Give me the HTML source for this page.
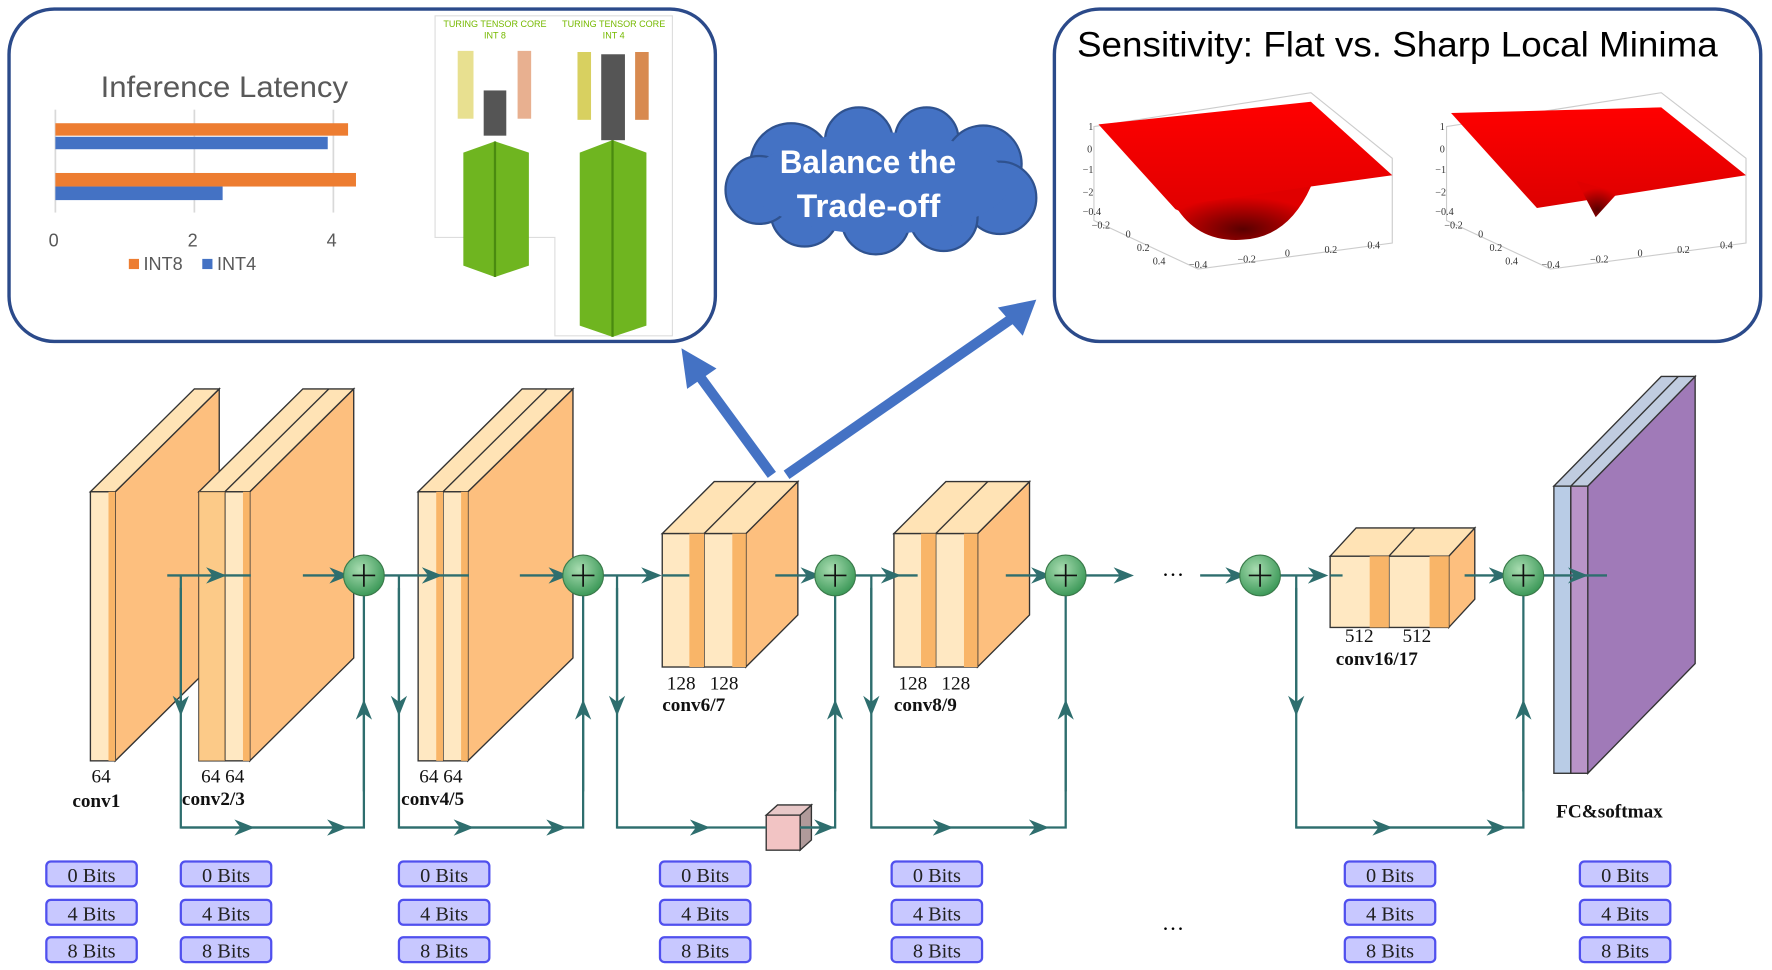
<!DOCTYPE html>
<html><head><meta charset="utf-8"><style>
html,body{margin:0;padding:0;background:#fff;}
svg{display:block}
.s{font-family:"Liberation Serif",serif;}
.a{font-family:"Liberation Sans",sans-serif;}
</style></head><body>
<svg width="1772" height="970" viewBox="0 0 1568 858" preserveAspectRatio="none" xmlns="http://www.w3.org/2000/svg">
<defs>
<radialGradient id="g" cx="40%" cy="35%" r="65%"><stop offset="0" stop-color="#a8dcb0"/><stop offset="1" stop-color="#3e9a5a"/></radialGradient>
<linearGradient id="rd" x1="0" y1="0" x2="0" y2="1"><stop offset="0" stop-color="#f00"/><stop offset="1" stop-color="#d00"/></linearGradient>
<radialGradient id="dip" cx="50%" cy="80%" r="60%"><stop offset="0" stop-color="#5a0000"/><stop offset="1" stop-color="#e00000"/></radialGradient>
<marker id="ar" viewBox="0 0 10 10" refX="7" refY="5" markerWidth="9" markerHeight="9" orient="auto"><path d="M0,1 L10,5 L0,9 L3,5z" fill="#2e6e6e"/></marker>
</defs>

<!-- top-left box -->
<rect x="8" y="8" width="625" height="294" rx="40" fill="#fff" stroke="#2b4a8a" stroke-width="3"/>
<text x="89" y="86" textLength="219" lengthAdjust="spacingAndGlyphs" class="a" font-size="26" fill="#595959">Inference Latency</text>
<g stroke="#d9d9d9" stroke-width="1.5"><line x1="49" y1="97" x2="49" y2="188"/><line x1="172" y1="97" x2="172" y2="188"/><line x1="295" y1="97" x2="295" y2="188"/></g>
<rect x="49" y="109" width="259" height="11" fill="#ed7d31"/>
<rect x="49" y="121" width="241" height="11" fill="#4472c4"/>
<rect x="49" y="153" width="266" height="12" fill="#ed7d31"/>
<rect x="49" y="165" width="148" height="12" fill="#4472c4"/>
<g class="a" font-size="16" fill="#595959"><text x="43" y="218">0</text><text x="166" y="218">2</text><text x="289" y="218">4</text>
<rect x="114" y="229" width="9" height="9" fill="#ed7d31"/><text x="127" y="239">INT8</text>
<rect x="179" y="229" width="9" height="9" fill="#4472c4"/><text x="192" y="239">INT4</text></g>
<!-- tensor core image -->
<path d="M385,14 H595 V297 H491 V210 H385 Z" fill="#fff" stroke="#ddd"/>
<text x="438" y="24" text-anchor="middle" class="a" font-size="8" fill="#76b900">TURING TENSOR CORE</text>
<text x="438" y="34" text-anchor="middle" class="a" font-size="8" fill="#76b900">INT 8</text>
<text x="543" y="24" text-anchor="middle" class="a" font-size="8" fill="#76b900">TURING TENSOR CORE</text>
<text x="543" y="34" text-anchor="middle" class="a" font-size="8" fill="#76b900">INT 4</text>
<rect x="405" y="45" width="14" height="60" fill="#e8e090"/>
<rect x="458" y="45" width="12" height="60" fill="#e8b090"/>
<rect x="428" y="80" width="20" height="40" fill="#555"/>
<rect x="511" y="46" width="12" height="60" fill="#d8d060"/>
<rect x="562" y="46" width="12" height="60" fill="#d88a50"/>
<rect x="532" y="48" width="21" height="76" fill="#555"/>
<path d="M410,135 L438,125 L468,135 V235 L438,245 L410,235 Z" fill="#6fb520"/>
<path d="M513,135 L542,124 L572,135 V288 L542,298 L513,288 Z" fill="#6fb520"/>
<path d="M438,125 V245 M542,124 V298" stroke="#4a8a10" stroke-width="2"/>

<!-- cloud -->
<g fill="#4472c4" stroke="#2f528f" stroke-width="2">
<circle cx="700" cy="145" r="36"/><circle cx="760" cy="125" r="30"/><circle cx="820" cy="123" r="28"/><circle cx="870" cy="145" r="34"/><circle cx="885" cy="175" r="32"/><circle cx="835" cy="192" r="30"/><circle cx="775" cy="195" r="30"/><circle cx="712" cy="188" r="30"/><circle cx="672" cy="168" r="30"/>
</g>
<g fill="#4472c4"><ellipse cx="778" cy="162" rx="115" ry="45"/></g>
<text x="690" y="153" textLength="156" lengthAdjust="spacingAndGlyphs" class="a" font-size="29" font-weight="bold" fill="#fff">Balance the</text>
<text x="705" y="192" textLength="127" lengthAdjust="spacingAndGlyphs" class="a" font-size="29" font-weight="bold" fill="#fff">Trade-off</text>

<!-- top-right box -->
<rect x="933" y="8" width="625" height="294" rx="40" fill="#fff" stroke="#2b4a8a" stroke-width="3"/>
<text x="953" y="50" textLength="567" lengthAdjust="spacingAndGlyphs" class="a" font-size="31" fill="#000">Sensitivity: Flat vs. Sharp Local Minima</text>
<g stroke="#ccc" stroke-width="1" fill="none">
<path d="M968,112 L1160,82 L1232,140 L1232,215 L1060,238 L968,195 Z"/>
<path d="M1280,112 L1470,82 L1545,140 L1545,215 L1372,238 L1280,195 Z"/>
</g>
<path d="M972,110 L1160,90 L1232,155 L1160,165 Q1100,215 1040,185 Z" fill="url(#rd)"/>
<path d="M1040,182 Q1060,215 1100,212 Q1140,210 1160,165 Z" fill="url(#dip)"/>
<path d="M1284,100 L1470,95 L1545,155 L1360,184 Z" fill="url(#rd)"/>
<path d="M1395,160 L1412,192 L1432,170 Z" fill="url(#dip)"/>
<g class="s" font-size="9" fill="#333">
<text x="963" y="115">1</text><text x="962" y="135">0</text><text x="958" y="153">−1</text><text x="958" y="173">−2</text>
<text x="958" y="190">−0.4</text><text x="966" y="202">−0.2</text><text x="996" y="210">0</text><text x="1006" y="222">0.2</text><text x="1020" y="234">0.4</text>
<text x="1052" y="237">−0.4</text><text x="1095" y="232">−0.2</text><text x="1137" y="227">0</text><text x="1172" y="224">0.2</text><text x="1210" y="220">0.4</text>
<text x="1274" y="115">1</text><text x="1274" y="135">0</text><text x="1270" y="153">−1</text><text x="1270" y="173">−2</text>
<text x="1270" y="190">−0.4</text><text x="1278" y="202">−0.2</text><text x="1308" y="210">0</text><text x="1318" y="222">0.2</text><text x="1332" y="234">0.4</text>
<text x="1364" y="237">−0.4</text><text x="1407" y="232">−0.2</text><text x="1449" y="227">0</text><text x="1484" y="224">0.2</text><text x="1522" y="220">0.4</text>
</g>

<!-- blue arrows -->
<g stroke="#4472c4" stroke-width="9" fill="#4472c4">
<line x1="683" y1="420" x2="617" y2="330"/>
<line x1="696" y1="420" x2="895" y2="282"/>
</g>
<path d="M603,308 L634,326 L608,344 Z" fill="#4472c4"/>
<path d="M917,265 L905,297 L883,272 Z" fill="#4472c4"/>

<!-- slabs -->
<g stroke="#333" stroke-width="1.2">
<polygon points="102,435 194,344 194,582 102,673" fill="#fdbf7e"/>
<polygon points="80,435 172,344 194,344 102,435" fill="#ffe3b5"/>
<rect x="80" y="435" width="22" height="238" fill="#ffe8c2"/>
<rect x="96" y="435" width="6" height="238" fill="#f9b568" stroke="none"/>
<polygon points="221,435 313,344 313,582 221,673" fill="#fdbf7e"/>
<polygon points="176,435 268,344 313,344 221,435" fill="#ffe3b5"/>
<line x1="199" y1="435" x2="291" y2="344"/>
<rect x="176" y="435" width="23" height="238" fill="#ffe8c2"/>
<rect x="199" y="435" width="22" height="238" fill="#ffe8c2"/>
<rect x="176" y="435" width="23" height="238" fill="#fbbd6f" fill-opacity="0.7" stroke="none"/>
<rect x="215" y="435" width="6" height="238" fill="#f9b568" stroke="none"/>
<polygon points="414,435 507,344 507,582 414,673" fill="#fdbf7e"/>
<polygon points="370,435 462,344 507,344 414,435" fill="#ffe3b5"/>
<line x1="392" y1="435" x2="484" y2="344"/>
<rect x="370" y="435" width="22" height="238" fill="#ffe8c2"/>
<rect x="392" y="435" width="22" height="238" fill="#ffe8c2"/>
<rect x="386" y="435" width="6" height="238" fill="#f9b568" stroke="none"/>
<rect x="408" y="435" width="6" height="238" fill="#f9b568" stroke="none"/>
<polygon points="660,472 706,426 706,544 660,590" fill="#fdbf7e"/>
<polygon points="586,472 632,426 706,426 660,472" fill="#ffe3b5"/>
<line x1="623" y1="472" x2="669" y2="426"/>
<rect x="586" y="472" width="37" height="118" fill="#ffe8c2"/>
<rect x="623" y="472" width="37" height="118" fill="#ffe8c2"/>
<rect x="610" y="472" width="13" height="118" fill="#f9b568" stroke="none"/>
<rect x="648" y="472" width="12" height="118" fill="#f9b568" stroke="none"/>
<polygon points="865,472 911,426 911,544 865,590" fill="#fdbf7e"/>
<polygon points="791,472 837,426 911,426 865,472" fill="#ffe3b5"/>
<line x1="828" y1="472" x2="874" y2="426"/>
<rect x="791" y="472" width="37" height="118" fill="#ffe8c2"/>
<rect x="828" y="472" width="37" height="118" fill="#ffe8c2"/>
<rect x="815" y="472" width="13" height="118" fill="#f9b568" stroke="none"/>
<rect x="853" y="472" width="12" height="118" fill="#f9b568" stroke="none"/>
<polygon points="1282,492 1305,467 1305,530 1282,555" fill="#fdbf7e"/>
<polygon points="1177,492 1200,467 1305,467 1282,492" fill="#ffe3b5"/>
<line x1="1229" y1="492" x2="1252" y2="467"/>
<rect x="1177" y="492" width="52" height="63" fill="#ffe8c2"/>
<rect x="1229" y="492" width="53" height="63" fill="#ffe8c2"/>
<rect x="1212" y="492" width="17" height="63" fill="#f9b568" stroke="none"/>
<rect x="1265" y="492" width="17" height="63" fill="#f9b568" stroke="none"/>
<polygon points="1405,430 1500,333 1500,587 1405,684" fill="#a07ab8"/>
<polygon points="1375,430 1470,333 1500,333 1405,430" fill="#c0cce0"/>
<line x1="1390" y1="430" x2="1485" y2="333"/>
<rect x="1375" y="430" width="15" height="254" fill="#b9cce6"/>
<rect x="1390" y="430" width="15" height="254" fill="#b994c8"/>
<polygon points="708,721 718,712 718,743 708,752" fill="#b09a9a"/>
<polygon points="678,721 688,712 718,712 708,721" fill="#e8c8c8"/>
<rect x="678" y="721" width="30" height="31" fill="#f2c4c4"/>
</g>

<!-- connectors -->
<g stroke="#2e6e6e" stroke-width="2" fill="none">
<line x1="148" y1="509" x2="195" y2="509" marker-end="url(#ar)"/>
<line x1="195" y1="509" x2="222" y2="509"/>
<line x1="268" y1="509" x2="304" y2="509" marker-end="url(#ar)"/>
<line x1="340" y1="509" x2="386" y2="509" marker-end="url(#ar)"/>
<line x1="386" y1="509" x2="415" y2="509"/>
<line x1="460" y1="509" x2="498" y2="509" marker-end="url(#ar)"/>
<line x1="534" y1="509" x2="580" y2="509" marker-end="url(#ar)"/>
<line x1="586" y1="509" x2="610" y2="509"/>
<line x1="686" y1="509" x2="721" y2="509" marker-end="url(#ar)"/>
<line x1="757" y1="509" x2="792" y2="509" marker-end="url(#ar)"/>
<line x1="792" y1="509" x2="812" y2="509"/>
<line x1="890" y1="509" x2="925" y2="509" marker-end="url(#ar)"/>
<line x1="961" y1="509" x2="998" y2="509" marker-end="url(#ar)"/>
<line x1="1062" y1="509" x2="1097" y2="509" marker-end="url(#ar)"/>
<line x1="1133" y1="509" x2="1170" y2="509" marker-end="url(#ar)"/>
<line x1="1177" y1="509" x2="1188" y2="509"/>
<line x1="1296" y1="509" x2="1330" y2="509" marker-end="url(#ar)"/>
<line x1="1366" y1="509" x2="1400" y2="509" marker-end="url(#ar)"/>
<line x1="1400" y1="509" x2="1422" y2="509"/>
<path d="M160,509 V732 H322 V527"/><line x1="160" y1="520" x2="160" y2="628" marker-end="url(#ar)"/>
<line x1="160" y1="732" x2="220" y2="732" marker-end="url(#ar)"/><line x1="220" y1="732" x2="302" y2="732" marker-end="url(#ar)"/><line x1="322" y1="700" x2="322" y2="624" marker-end="url(#ar)"/>
<path d="M353,509 V732 H516 V527"/><line x1="353" y1="520" x2="353" y2="628" marker-end="url(#ar)"/>
<line x1="353" y1="732" x2="414" y2="732" marker-end="url(#ar)"/><line x1="414" y1="732" x2="496" y2="732" marker-end="url(#ar)"/><line x1="516" y1="700" x2="516" y2="624" marker-end="url(#ar)"/>
<path d="M546,509 V732 H678 M708,732 H739 V527"/><line x1="546" y1="520" x2="546" y2="628" marker-end="url(#ar)"/>
<line x1="546" y1="732" x2="623" y2="732" marker-end="url(#ar)"/><line x1="708" y1="732" x2="733" y2="732" marker-end="url(#ar)"/><line x1="739" y1="700" x2="739" y2="624" marker-end="url(#ar)"/>
<path d="M771,509 V732 H943 V527"/><line x1="771" y1="520" x2="771" y2="628" marker-end="url(#ar)"/>
<line x1="771" y1="732" x2="838" y2="732" marker-end="url(#ar)"/><line x1="838" y1="732" x2="923" y2="732" marker-end="url(#ar)"/><line x1="943" y1="700" x2="943" y2="624" marker-end="url(#ar)"/>
<path d="M1147,509 V732 H1348 V527"/><line x1="1147" y1="520" x2="1147" y2="628" marker-end="url(#ar)"/>
<line x1="1147" y1="732" x2="1227" y2="732" marker-end="url(#ar)"/><line x1="1227" y1="732" x2="1328" y2="732" marker-end="url(#ar)"/><line x1="1348" y1="700" x2="1348" y2="624" marker-end="url(#ar)"/>
</g>
<g>
<circle cx="322" cy="509" r="18" fill="url(#g)" stroke="#3a7a4a"/>
<circle cx="516" cy="509" r="18" fill="url(#g)" stroke="#3a7a4a"/>
<circle cx="739" cy="509" r="18" fill="url(#g)" stroke="#3a7a4a"/>
<circle cx="943" cy="509" r="18" fill="url(#g)" stroke="#3a7a4a"/>
<circle cx="1115" cy="509" r="18" fill="url(#g)" stroke="#3a7a4a"/>
<circle cx="1348" cy="509" r="18" fill="url(#g)" stroke="#3a7a4a"/>
</g>
<g stroke="#111" stroke-width="1.5">
<path d="M312,509 H332 M322,499 V519"/><path d="M506,509 H526 M516,499 V519"/><path d="M729,509 H749 M739,499 V519"/>
<path d="M933,509 H953 M943,499 V519"/><path d="M1105,509 H1125 M1115,499 V519"/><path d="M1338,509 H1358 M1348,499 V519"/>
</g>
<text x="1038" y="515" text-anchor="middle" class="s" font-size="20">···</text>
<text x="1038" y="828" text-anchor="middle" class="s" font-size="20">···</text>

<g class="s" font-size="17" fill="#111">
<text x="81" y="692">64</text>
<text x="178" y="692">64 64</text>
<text x="371" y="692">64 64</text>
<text x="590" y="610">128</text><text x="628" y="610">128</text>
<text x="795" y="610">128</text><text x="833" y="610">128</text>
<text x="1190" y="568">512</text><text x="1241" y="568">512</text>
</g>
<g class="s" font-size="17" font-weight="bold" fill="#111">
<text x="64" y="714">conv1</text>
<text x="161" y="712">conv2/3</text>
<text x="355" y="712">conv4/5</text>
<text x="586" y="629">conv6/7</text>
<text x="791" y="629">conv8/9</text>
<text x="1182" y="588">conv16/17</text>
<text x="1377" y="723">FC&amp;softmax</text>
</g>

<g class="s" font-size="18" fill="#222">
<g id="b">
<rect x="41" y="762" width="80" height="22" rx="4" fill="#c8c8ff" stroke="#5050ee" stroke-width="2"/>
<rect x="41" y="796" width="80" height="22" rx="4" fill="#c8c8ff" stroke="#5050ee" stroke-width="2"/>
<rect x="41" y="829" width="80" height="22" rx="4" fill="#c8c8ff" stroke="#5050ee" stroke-width="2"/>
<text x="81" y="780" text-anchor="middle">0 Bits</text>
<text x="81" y="814" text-anchor="middle">4 Bits</text>
<text x="81" y="847" text-anchor="middle">8 Bits</text>
</g>
<use href="#b" x="119"/><use href="#b" x="312"/><use href="#b" x="543"/><use href="#b" x="748"/><use href="#b" x="1149"/><use href="#b" x="1357"/>
</g>
</svg>
</body></html>
